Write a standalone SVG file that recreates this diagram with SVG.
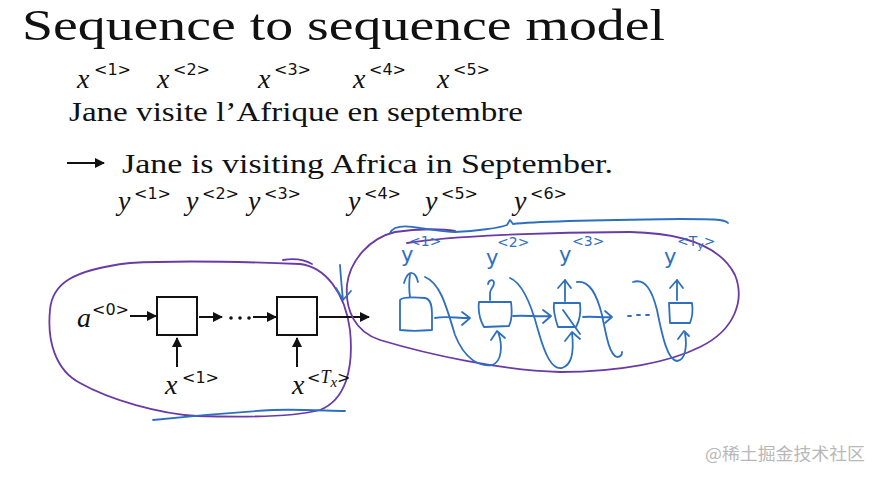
<svg xmlns="http://www.w3.org/2000/svg" width="883" height="481" viewBox="0 0 883 481">
<defs>
<style>
.serif{font-family:"Liberation Serif","DejaVu Serif",serif;fill:#111}
.mi{font-family:"Liberation Serif","DejaVu Serif",serif;font-style:italic;font-size:28px;fill:#111}
.sup{font-family:"DejaVu Sans","Liberation Sans",sans-serif;font-size:16px;fill:#111}
.box{fill:#fff;stroke:#111;stroke-width:2}
.arr{stroke:#111;stroke-width:2;fill:none}
.pur{stroke:#6a3aa6;stroke-width:1.8;fill:none;stroke-linecap:round}
.blu{stroke:#2e6fbf;stroke-width:1.8;fill:none;stroke-linecap:round;stroke-linejoin:round}
.hand{font-family:"DejaVu Sans","Liberation Sans",sans-serif;fill:#2e6fbf}
.wm{font-family:"Noto Sans CJK SC",sans-serif;font-size:17px;fill:#b8b8b8}
</style>
<marker id="ah" viewBox="0 0 10 10" refX="9" refY="5" markerWidth="5" markerHeight="5" orient="auto" markerUnits="strokeWidth">
<path d="M0,0 L10,5 L0,10 Z" fill="#111"/>
</marker>
</defs>
<rect width="883" height="481" fill="#fff"/>

<g id="title">
<text class="serif" x="22" y="40" font-size="44" textLength="643" lengthAdjust="spacingAndGlyphs">Sequence to sequence model</text>
</g>

<g id="source">
<text class="mi" x="77" y="88">x</text><text class="sup" x="94" y="75">&lt;1&gt;</text>
<text class="mi" x="157" y="88">x</text><text class="sup" x="173" y="75">&lt;2&gt;</text>
<text class="mi" x="258" y="88">x</text><text class="sup" x="274" y="75">&lt;3&gt;</text>
<text class="mi" x="353" y="88">x</text><text class="sup" x="369" y="75">&lt;4&gt;</text>
<text class="mi" x="437" y="88">x</text><text class="sup" x="453" y="75">&lt;5&gt;</text>
<text class="serif" x="69" y="121" font-size="27" textLength="454" lengthAdjust="spacingAndGlyphs">Jane  visite  l’Afrique  en  septembre</text>
</g>

<g id="target">
<line class="arr" x1="67" y1="163" x2="104" y2="163" stroke-width="1.6" marker-end="url(#ah)"/>
<text class="serif" x="122" y="173" font-size="27" textLength="491" lengthAdjust="spacingAndGlyphs">Jane  is  visiting  Africa  in  September.</text>
<text class="mi" x="118" y="210">y</text><text class="sup" x="134" y="199">&lt;1&gt;</text>
<text class="mi" x="186" y="210">y</text><text class="sup" x="202" y="199">&lt;2&gt;</text>
<text class="mi" x="248" y="210">y</text><text class="sup" x="264" y="199">&lt;3&gt;</text>
<text class="mi" x="348" y="210">y</text><text class="sup" x="364" y="199">&lt;4&gt;</text>
<text class="mi" x="425" y="210">y</text><text class="sup" x="441" y="199">&lt;5&gt;</text>
<text class="mi" x="514" y="210">y</text><text class="sup" x="530" y="199">&lt;6&gt;</text>
</g>

<g id="encoder-loop">
<path class="pur" d="M130,263 C180,260 250,262 300,264 C325,267 345,292 350,330 C354,370 345,400 320,410 C290,418 230,417 197,416 C160,414 110,400 80,383 C55,370 47,340 50,310 C52,285 70,270 130,263 Z"/>
<path class="pur" d="M283,260 C295,258 305,260 312,264"/>
<path class="blu" d="M153,420 C200,415 240,412 273,410 C300,409 330,411 345,411"/>
</g>

<g id="enc-a0">
<text class="mi" x="77" y="327">a</text><text class="sup" x="92" y="315">&lt;0&gt;</text>
</g>
<g id="enc-cell1">
<rect class="box" x="157" y="297" width="40" height="38"/>
<text class="mi" x="165" y="394">x</text><text class="sup" x="182" y="383">&lt;1&gt;</text>
</g>
<g id="enc-cell2">
<rect class="box" x="277" y="297" width="40" height="38"/>
<text class="mi" x="292" y="394">x</text>
<text class="sup" x="307" y="383">&lt;<tspan font-family="Liberation Serif" font-style="italic" font-size="18">T</tspan><tspan font-family="Liberation Serif" font-style="italic" font-size="15" dy="4">x</tspan><tspan dy="-4">&gt;</tspan></text>
</g>

<g id="connectors">
<line class="arr" x1="130" y1="316" x2="156" y2="316" marker-end="url(#ah)"/>
<line class="arr" x1="199" y1="317" x2="222" y2="317" marker-end="url(#ah)"/>
<circle cx="231" cy="318" r="1.8" fill="#111"/>
<circle cx="240" cy="318" r="1.8" fill="#111"/>
<circle cx="249" cy="318" r="1.8" fill="#111"/>
<line class="arr" x1="253" y1="317" x2="276" y2="317" marker-end="url(#ah)"/>
<line class="arr" x1="319" y1="317" x2="369" y2="317" marker-end="url(#ah)"/>
<line class="arr" x1="177" y1="367" x2="177" y2="338" marker-end="url(#ah)"/>
<line class="arr" x1="297" y1="367" x2="297" y2="338" marker-end="url(#ah)"/>
</g>

<g id="decoder-loop">
<path class="pur" d="M407,243 C450,236 550,232 630,232 C680,233 720,245 735,275 C745,300 735,330 700,347 C670,362 620,372 560,372 C500,370 430,355 380,340 C355,332 345,310 347,285 C350,260 370,238 395,232 C420,228 445,229 455,231"/>
<path class="blu" d="M390,233 C393,226 405,225 420,228 C435,230 445,232 455,232 C475,231 500,228 507,225 L510,220 L513,224 C530,222 600,220 680,219 C710,219 725,219 728,223"/>
<path class="blu" d="M340,265 C341,280 342,290 343,300 M336,288 L343,300 L351,291"/>
</g>

<g id="dec-cell1">
<path class="blu" d="M400,330 L400,300 C402,297 412,297 425,298 C431,299 432,306 432,315 L432,330 C420,331 408,331 400,330"/>
<path class="blu" d="M410,297 C409,290 409,282 410,274 M404,283 C406,276 409,272 412,273 C416,274 417,278 418,282"/>
<text class="hand" x="401" y="262" font-size="21">y</text><text class="hand" x="409" y="246" font-size="14">&lt;1&gt;</text>
</g>
<g id="dec-cell2">
<path class="blu" d="M479,302 L511,302 C512,310 512,320 509,326 L484,327 C480,320 478,310 479,302 Z"/>
<path class="blu" d="M490,300 L490,293 C490,289 494,287 494,283 C494,279 489,279 488,284"/>
<text class="hand" x="486" y="265" font-size="21">y</text><text class="hand" x="497" y="247" font-size="14">&lt;2&gt;</text>
</g>
<g id="dec-cell3">
<path class="blu" d="M554,303 L580,303 C581,312 580,320 576,327 L558,327 C555,318 553,310 554,303 M563,310 L580,334"/>
<path class="blu" d="M565,301 L565,280 M558,288 L565,280 L571,288"/>
<text class="hand" x="559" y="262" font-size="21">y</text><text class="hand" x="572" y="246" font-size="14">&lt;3&gt;</text>
</g>
<g id="dec-cellTy">
<path class="blu" d="M670,323 L669,303 L692,303 C693,310 692,318 690,323 Z"/>
<path class="blu" d="M677,300 L677,280 M670,288 L677,280 L683,288"/>
<text class="hand" x="664" y="264" font-size="21">y</text><text class="hand" x="677" y="246" font-size="14">&lt;T<tspan font-size="11" dy="3">y</tspan><tspan dy="-3">&gt;</tspan></text>
</g>

<g id="dec-connectors">
<path class="blu" d="M435,318 C445,316 455,318 470,318 M462,312 L470,318 L462,325"/>
<path class="blu" d="M425,277 C440,283 446,305 455,335 C465,360 480,367 492,365 C502,362 503,345 498,332 M491,340 L497,331 L505,338"/>
<path class="blu" d="M513,316 C525,315 538,317 551,316 M543,310 L551,316 L543,323"/>
<path class="blu" d="M510,278 C520,282 530,300 538,330 C545,355 552,370 562,368 C572,365 574,350 572,333 M565,341 L572,332 L580,339"/>
<path class="blu" d="M583,317 C593,316 603,318 612,317 M605,311 L612,317 L605,323"/>
<path class="blu" d="M577,282 C590,280 597,295 602,315 C607,340 610,355 617,357 C620,357 622,355 622,352"/>
<path class="blu" d="M628,316 L631,316 M637,315 L640,315 M646,315 L649,315"/>
<path class="blu" d="M633,282 C645,278 652,290 657,310 C663,340 668,360 677,361 C686,360 687,345 685,333 M678,339 L684,331 L689,336"/>
</g>

<g id="watermark">
<text class="wm" x="705" y="460" textLength="160" lengthAdjust="spacingAndGlyphs">@稀土掘金技术社区</text>
</g>
</svg>
